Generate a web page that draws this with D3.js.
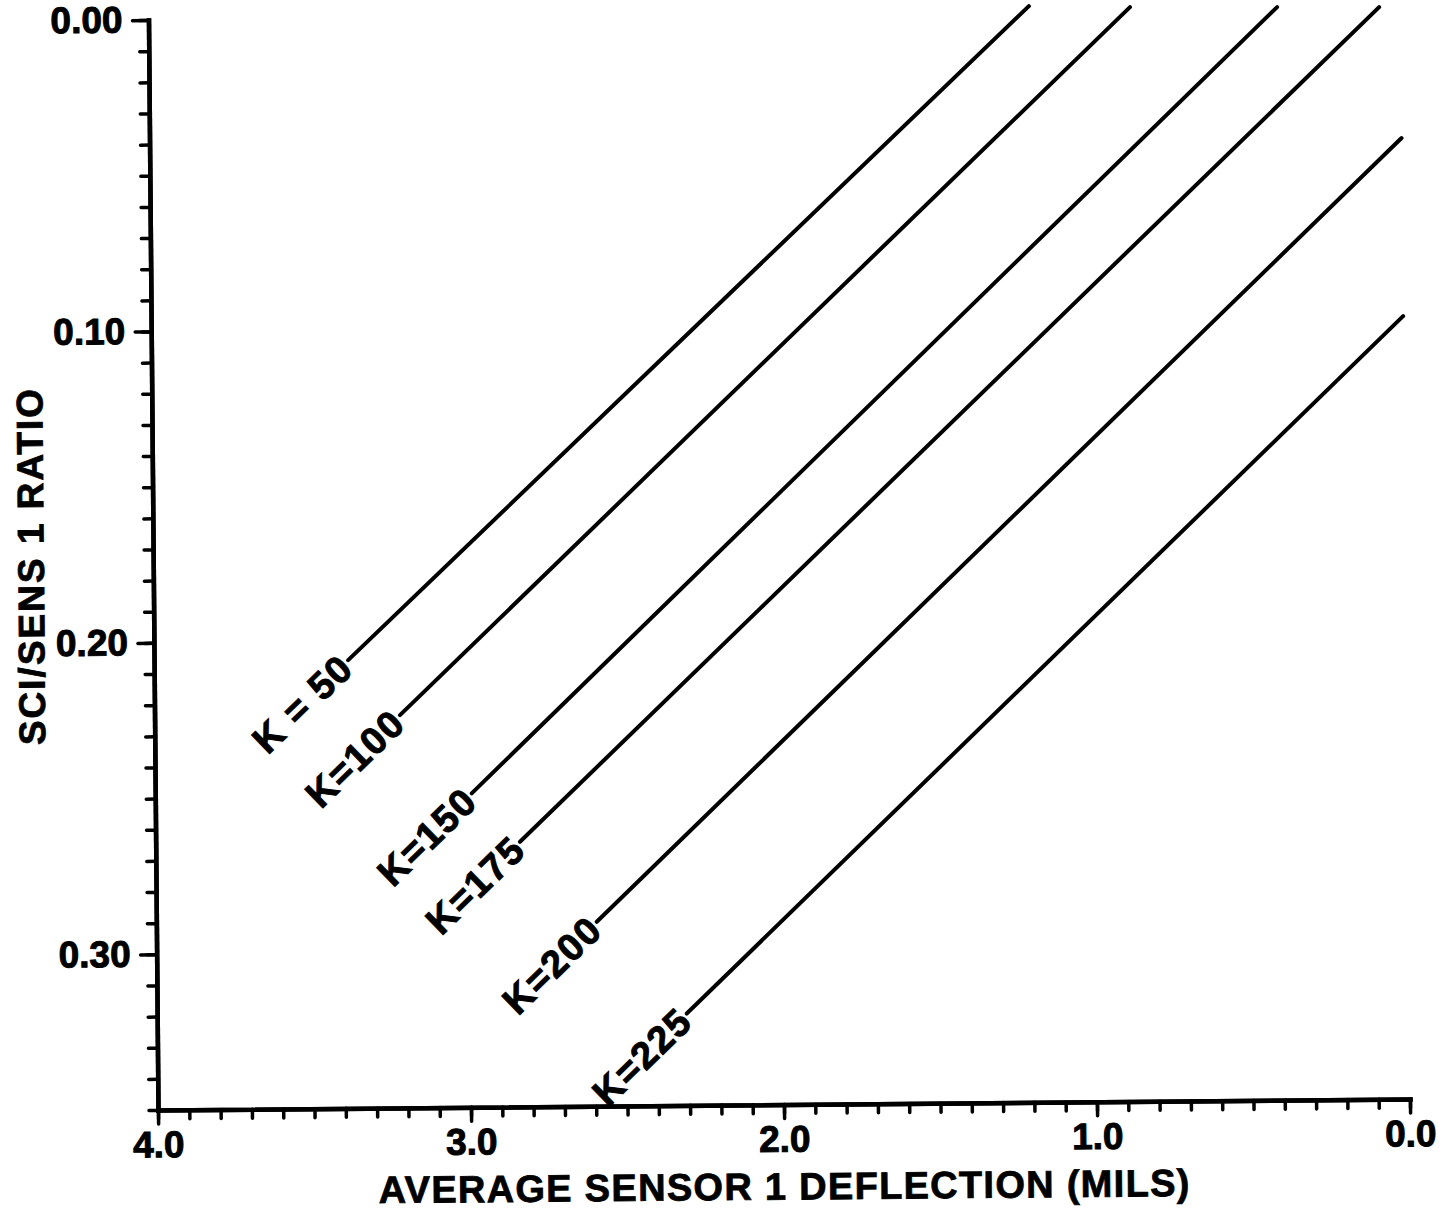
<!DOCTYPE html>
<html>
<head>
<meta charset="utf-8">
<title>SCI/SENS 1 ratio vs deflection</title>
<script src="https://cdn.jsdelivr.net/npm/d3@7"></script>
<style>
    body { margin: 0; background: #fff; }
    svg { display: block; }
</style>
</head>
<body>
<div id="grafico"></div>
<script>
// Rótulos e valores dos ticks principais
const ticksX = [4.0, 3.0, 2.0, 1.0, 0.0];
const rotulosTicksX = ["4.0", "3.0", "2.0", "1.0", "0.0"];
const ticksY = [0.00, 0.10, 0.20, 0.30];
const rotulosTicksY = ["0.00", "0.10", "0.20", "0.30"];

// Curvas K: início (junto ao rótulo) e fim de cada reta
const rotulosK = ["K = 50", "K=100", "K=150", "K=175", "K=200", "K=225"];
const inicioX = [3.380, 3.216, 2.989, 2.836, 2.593, 2.308];
const inicioY = [0.2061, 0.2239, 0.2492, 0.2649, 0.2908, 0.3205];
const fimX = [1.187, 0.864, 0.394, 0.068, 0.000, 0.000];
const fimY = [-0.0020, -0.0014, -0.0010, -0.0007, 0.0414, 0.0986];

const tituloX = "AVERAGE SENSOR 1 DEFLECTION (MILS)";
const tituloY = "SCI/SENS 1 RATIO";

const largura = 1449, altura = 1221;
const fonte = "'Liberation Sans', Arial, Helvetica, sans-serif";

const svg = d3.select("#grafico").append("svg")
    .attr("width", largura)
    .attr("height", altura);

svg.append("rect").attr("width", largura).attr("height", altura).attr("fill", "#fff");

// a página original foi digitalizada levemente girada
const g = svg.append("g").attr("transform", "rotate(-0.5,158,1110)");

const eixoX = d3.scaleLinear().domain([4, 0]).range([158, 1410]);
const eixoY = d3.scaleLinear().domain([0, 0.35]).range([20, 1110]);

// Ticks menores (0.01 no eixo Y, 0.1 no eixo X)
const menoresY = d3.range(0, 36).map(i => i / 100);
const menoresX = d3.range(0, 41).map(i => i / 10);

g.append("g").attr("class", "eixo")
    .attr("transform", "translate(158,0)")
    .call(d3.axisLeft(eixoY).tickValues(menoresY).tickSize(9).tickSizeOuter(0).tickFormat(""));

g.append("g").attr("class", "eixo")
    .attr("transform", "translate(0,1110)")
    .call(d3.axisBottom(eixoX).tickValues(menoresX).tickSize(9).tickSizeOuter(0).tickFormat(""));

// Ticks principais com rótulos
g.append("g").attr("class", "eixo principal")
    .attr("transform", "translate(158,0)")
    .call(d3.axisLeft(eixoY).tickValues(ticksY).tickSize(16).tickPadding(10).tickSizeOuter(0)
        .tickFormat((d, i) => rotulosTicksY[i]));

g.append("g").attr("class", "eixo principal")
    .attr("transform", "translate(0,1110)")
    .call(d3.axisBottom(eixoX).tickValues(ticksX).tickSize(14).tickPadding(7).tickSizeOuter(0)
        .tickFormat((d, i) => rotulosTicksX[i]));

// Estilo dos eixos (texto um pouco "engordado", como na cópia impressa)
g.selectAll(".eixo").attr("font-family", fonte).attr("font-size", 37).attr("font-weight", "bold");
g.selectAll(".eixo .domain").attr("stroke", "#000").attr("stroke-width", 4.5).attr("stroke-linecap", "square");
g.selectAll(".eixo .tick line").attr("stroke", "#000").attr("stroke-width", 3.5).attr("stroke-linecap", "round");
g.selectAll(".eixo .tick text").attr("fill", "#000").attr("stroke", "#000").attr("stroke-width", 1);

// Retas K
const curvas = rotulosK.map((rotulo, i) => ({
    rotulo: rotulo,
    x0: inicioX[i], y0: inicioY[i],
    x1: fimX[i], y1: fimY[i]
}));

g.append("g").selectAll("line")
    .data(curvas)
    .join("line")
    .attr("x1", d => eixoX(d.x0))
    .attr("y1", d => eixoY(d.y0))
    .attr("x2", d => eixoX(d.x1))
    .attr("y2", d => eixoY(d.y1))
    .attr("stroke", "#000")
    .attr("stroke-width", 4)
    .attr("stroke-linecap", "round");

// Rótulos K, alinhados com cada reta
g.append("g").selectAll("text")
    .data(curvas)
    .join("text")
    .attr("transform", d => {
        const px = eixoX(d.x0), py = eixoY(d.y0);
        const angulo = Math.atan2(eixoY(d.y1) - py, eixoX(d.x1) - px) * 180 / Math.PI;
        return `translate(${px},${py}) rotate(${angulo})`;
    })
    .attr("x", -2)
    .attr("text-anchor", "end")
    .attr("dominant-baseline", "central")
    .attr("font-family", fonte)
    .attr("font-size", 38)
    .attr("font-weight", "bold")
    .attr("letter-spacing", 1.5)
    .attr("fill", "#000")
    .attr("stroke", "#000")
    .attr("stroke-width", 1)
    .text(d => d.rotulo);

// Títulos dos eixos
g.append("text")
    .attr("x", 784)
    .attr("y", 1205)
    .attr("text-anchor", "middle")
    .attr("font-family", fonte)
    .attr("font-size", 38)
    .attr("font-weight", "bold")
    .attr("letter-spacing", 1.3)
    .attr("fill", "#000")
    .attr("stroke", "#000")
    .attr("stroke-width", 0.8)
    .text(tituloX);

g.append("text")
    .attr("transform", "translate(36,565) rotate(-90)")
    .attr("text-anchor", "middle")
    .attr("dominant-baseline", "central")
    .attr("font-family", fonte)
    .attr("font-size", 37)
    .attr("font-weight", "bold")
    .attr("letter-spacing", 2)
    .attr("fill", "#000")
    .attr("stroke", "#000")
    .attr("stroke-width", 0.8)
    .text(tituloY);
</script>
</body>
</html>
